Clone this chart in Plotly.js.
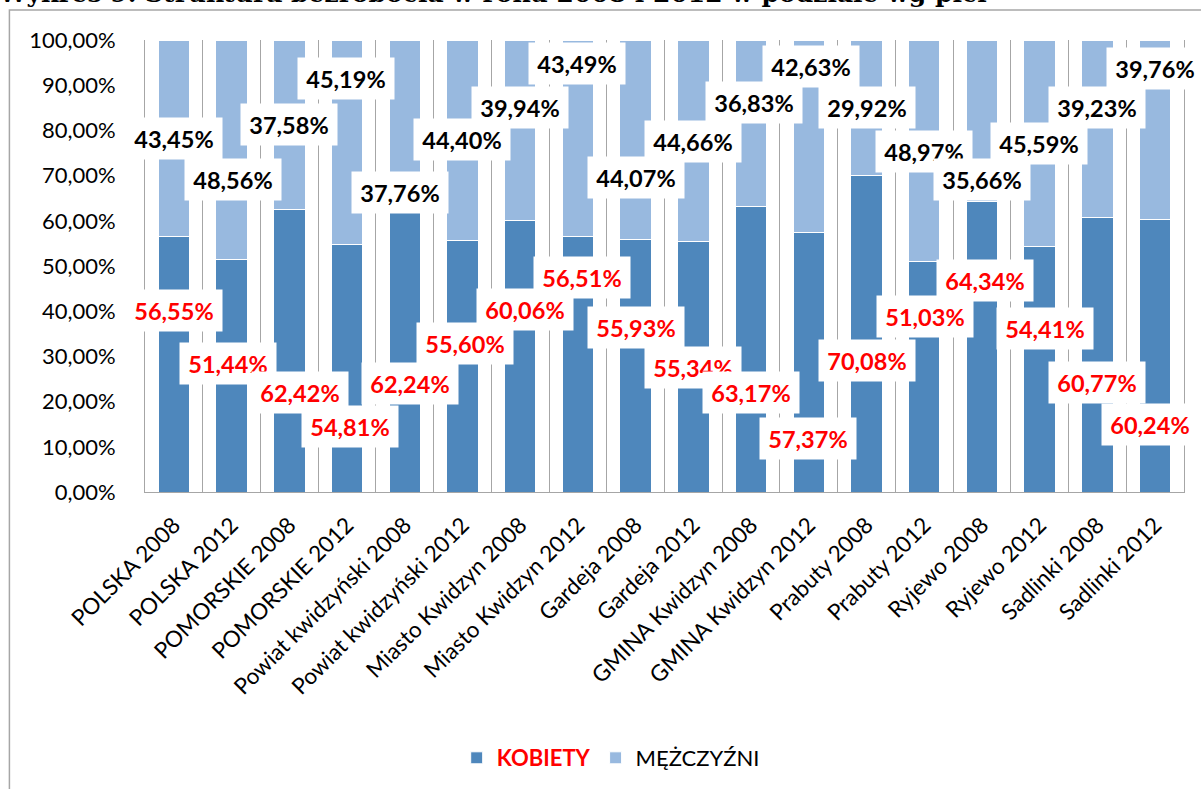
<!DOCTYPE html>
<html>
<head>
<meta charset="utf-8">
<script src="https://cdn.plot.ly/plotly-3.0.1.min.js"></script>
<style>
html,body{margin:0;padding:0;background:#fff;}
#chart{width:1201px;height:789px;}
</style>
</head>
<body>
<div id="chart"></div>
<script>
// ---- data ----
var categories = ["POLSKA 2008","POLSKA 2012","POMORSKIE 2008","POMORSKIE 2012",
  "Powiat kwidzyński 2008","Powiat kwidzyński 2012","Miasto Kwidzyn 2008","Miasto Kwidzyn 2012",
  "Gardeja 2008","Gardeja 2012","GMINA Kwidzyn 2008","GMINA Kwidzyn 2012",
  "Prabuty 2008","Prabuty 2012","Ryjewo 2008","Ryjewo 2012","Sadlinki 2008","Sadlinki 2012"];
var kobiety = [56.55,51.44,62.42,54.81,62.24,55.60,60.06,56.51,55.93,55.34,63.17,57.37,70.08,51.03,64.34,54.41,60.77,60.24];
var mezczyzni = [43.45,48.56,37.58,45.19,37.76,44.40,39.94,43.49,44.07,44.66,36.83,42.63,29.92,48.97,35.66,45.59,39.23,39.76];
var seriesNames = ["KOBIETY","MĘŻCZYŹNI"];
var yTicks = [0,10,20,30,40,50,60,70,80,90,100];
var titleText = "Wykres 9. Struktura bezrobocia w roku 2008 i 2012 w podziale wg płci";

// ---- label placement (manually placed labels in the original) ----
var labelYK = [40.2,28.5,22.0,14.6,24.1,32.9,40.4,47.5,36.5,27.5,22.0,11.8,29.2,38.9,46.8,36.2,24.2,15.0];
var labelShiftK = [0,-4,11,3,5,3,5,4,0,0,0,-1,0,1,3,5,0,-5];
var labelYM = [78.3,69.2,81.2,91.4,66.2,77.9,85.1,94.9,69.6,77.6,86.2,94.2,85.1,75.4,69.1,77.2,85.1,93.7];
var labelShiftM = [0,1,0,-1,-5,0,0,-1,0,0,3,2,0,0,0,-1,0,0];

var colK = "#4E87BC", colM = "#98B9DF";
var fontMain = "Lato, 'Open Sans', sans-serif";

function fmt(v){ return v.toFixed(2).replace('.', ',') + '%'; }

var traces = [
  {type:'bar', x:categories, y:kobiety, name:'<span style="color:#FF0000"><b>'+seriesNames[0]+'</b></span>',
   marker:{color:colK, line:{color:'#ffffff', width:1}}, hoverinfo:'skip'},
  {type:'bar', x:categories, y:mezczyzni, name:seriesNames[1],
   marker:{color:colM, line:{color:'#ffffff', width:1}}, hoverinfo:'skip'}
];

var annotations = [];
function addLabels(vals, ys, shifts, color){
  for (var i=0;i<vals.length;i++){
    annotations.push({
      x: categories[i], y: ys[i], xref:'x', yref:'y', xshift: shifts[i],
      text:'<b>'+fmt(vals[i])+'</b>', showarrow:false,
      font:{family:fontMain, size:23.5, color:color},
      bgcolor:'#ffffff', borderpad:4, width:88, height:33
    });
  }
}
addLabels(mezczyzni, labelYM, labelShiftM, '#000000');
addLabels(kobiety, labelYK, labelShiftK, '#FF0000');

annotations.push({
  xref:'paper', yref:'paper', x:-0.143, y:1.0655, xanchor:'left', yanchor:'bottom',
  text:'<b>'+titleText+'</b>', showarrow:false,
  font:{family:"'DejaVu Serif', serif", size:25, color:'#000000'}
});

var layout = {
  width:1201, height:789,
  margin:{l:145, r:17, t:40, b:296, pad:0},
  paper_bgcolor:'#ffffff', plot_bgcolor:'#ffffff',
  barmode:'stack', bargap:0.455,
  showlegend:true,
  legend:{orientation:'h', x:0.300, xanchor:'left', y:-0.585, yanchor:'middle',
          font:{family:fontMain, size:22, color:'#000000'}, itemwidth:30, traceorder:'normal'},
  xaxis:{type:'category', tickangle:-45, tickson:'boundaries', showgrid:true, gridcolor:'#A6A6A6', gridwidth:1,
         showline:true, linecolor:'#A6A6A6', linewidth:1, ticks:'', ticklabelstandoff:10,
         tickfont:{family:fontMain, size:22.5, color:'#000000'}, range:[-0.5,17.5], fixedrange:true},
  yaxis:{range:[0,100], tickvals:yTicks, ticktext:yTicks.map(fmt), showgrid:false,
         showline:true, mirror:true, linecolor:'#A6A6A6', linewidth:1, ticks:'', zeroline:false,
         ticklabelstandoff:24, tickfont:{family:fontMain, size:22, color:'#000000'}, fixedrange:true},
  separators:', ',
  annotations:annotations,
  shapes:[{type:'rect', xref:'paper', yref:'paper', x0:-0.1305, y0:-0.75, x1:1.2, y1:1.0662,
           line:{color:'#A6A6A6', width:1.5}, fillcolor:'rgba(0,0,0,0)', layer:'below'}]
};

Plotly.newPlot('chart', traces, layout, {staticPlot:true, displayModeBar:false});
</script>
</body>
</html>
